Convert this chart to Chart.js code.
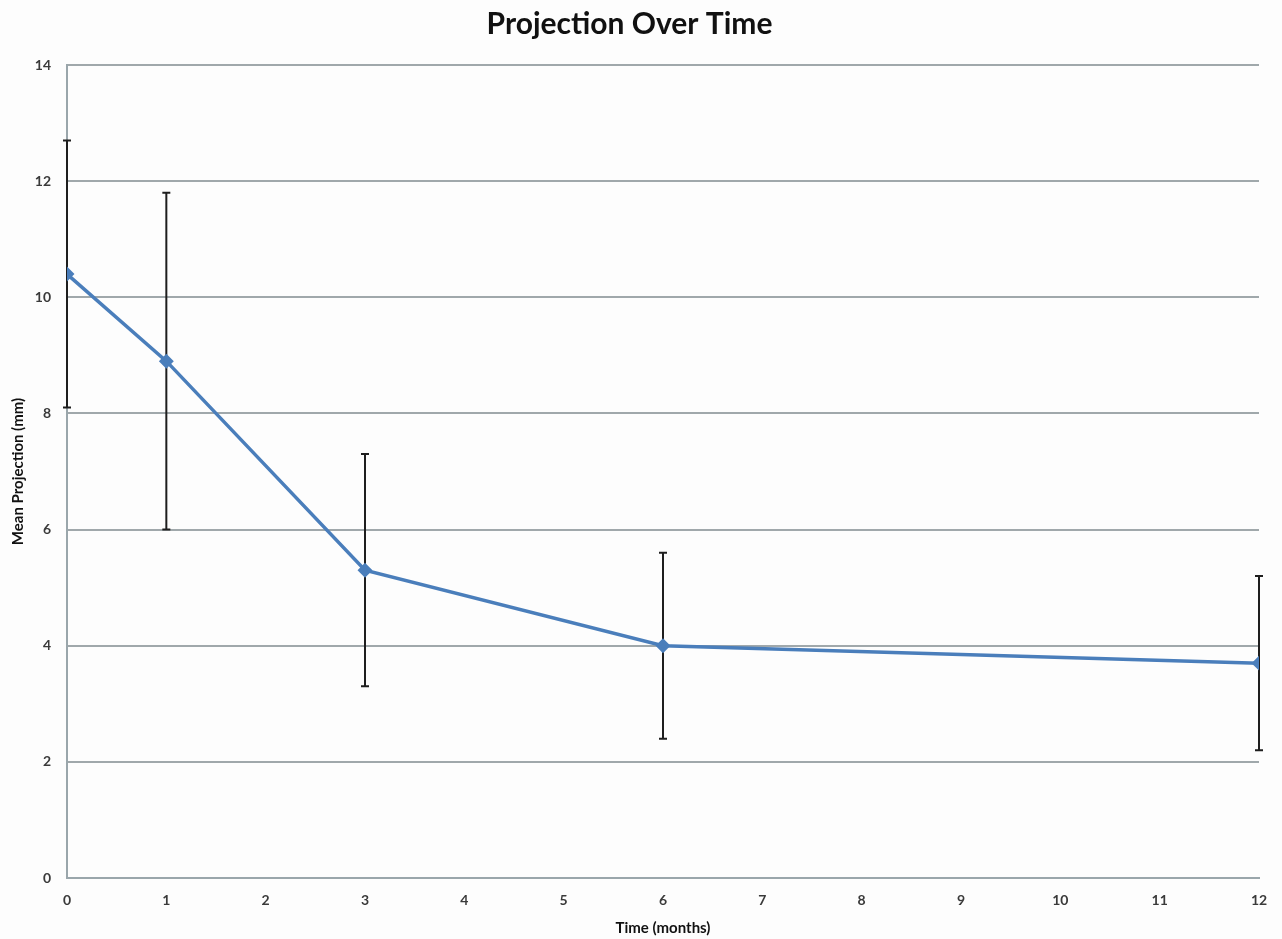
<!DOCTYPE html>
<html>
<head>
<meta charset="utf-8">
<script src="https://cdn.jsdelivr.net/npm/chart.js@4"></script>
<style>
  html, body { margin: 0; padding: 0; background: #fdfdfd; }
  #wrap { width: 1282px; height: 939px; }
</style>
</head>
<body>
<div id="wrap"><canvas id="chart" width="1282" height="939"></canvas></div>
<script>
// Datos
const months = [0, 1, 3, 6, 12];
const meanProjection = [10.4, 8.9, 5.3, 4.0, 3.7];
const errLow = [8.1, 6.0, 3.3, 2.4, 2.2];
const errHigh = [12.7, 11.8, 7.3, 5.6, 5.2];
const yTicks = [0, 2, 4, 6, 8, 10, 12, 14];

const fontFamily = 'Lato, "Open Sans", sans-serif';
const textColor = '#3a3a3a';

// Barras de error dibujadas con las escalas del grafico
const errorBars = {
    id: 'errorBars',
    beforeDatasetsDraw(chart) {
        const ctx = chart.ctx;
        const x = chart.scales.x;
        const y = chart.scales.y;
        ctx.save();
        ctx.strokeStyle = '#1e1e1e';
        ctx.lineWidth = 2;
        months.forEach((m, i) => {
            const px = x.getPixelForValue(m);
            const top = y.getPixelForValue(errHigh[i]);
            const bot = y.getPixelForValue(errLow[i]);
            ctx.beginPath();
            ctx.moveTo(px, top);
            ctx.lineTo(px, bot);
            ctx.moveTo(px - 4, top);
            ctx.lineTo(px + 4, top);
            ctx.moveTo(px - 4, bot);
            ctx.lineTo(px + 4, bot);
            ctx.stroke();
        });
        ctx.restore();
    }
};

const background = {
    id: 'background',
    beforeDraw(chart) {
        const ctx = chart.ctx;
        ctx.save();
        ctx.fillStyle = '#fdfdfd';
        ctx.fillRect(0, 0, chart.width, chart.height);
        ctx.restore();
    }
};

new Chart(document.getElementById('chart'), {
    type: 'line',
    data: {
        datasets: [{
            label: 'Mean Projection',
            data: months.map((m, i) => ({ x: m, y: meanProjection[i] })),
            borderColor: '#4a7ebb',
            backgroundColor: '#4a7ebb',
            borderWidth: 3.5,
            pointStyle: 'rectRot',
            pointRadius: 5,
            pointHoverRadius: 5,
            tension: 0
        }]
    },
    options: {
        responsive: false,
        animation: false,
        layout: { padding: { left: 0, right: 23, top: 0, bottom: 0 } },
        plugins: {
            legend: { display: false },
            tooltip: { enabled: false },
            title: {
                display: true,
                text: 'Projection Over Time',
                color: '#111',
                font: { family: fontFamily, size: 30, weight: 'bold' },
                padding: { top: 6, bottom: 23 }
            }
        },
        scales: {
            x: {
                type: 'linear',
                min: 0,
                max: 12,
                afterFit(scale) { scale.height = 61; },
                grid: { display: false, drawTicks: false },
                border: { display: true, color: '#9aa6ab', width: 2 },
                ticks: {
                    stepSize: 1,
                    padding: 14,
                    color: textColor,
                    font: { family: fontFamily, size: 14, weight: 'bold' }
                },
                title: {
                    display: true,
                    text: 'Time (months)',
                    color: '#111',
                    padding: { top: 0, bottom: 2 },
                    font: { family: fontFamily, size: 15, weight: 'bold' }
                }
            },
            y: {
                min: 0,
                max: 14,
                afterFit(scale) { scale.width = 67; },
                afterBuildTicks(scale) { scale.ticks = yTicks.map(v => ({ value: v })); },
                grid: { color: '#a0a8ab', lineWidth: 2, drawTicks: false },
                border: { display: true, color: '#9aa6ab', width: 2 },
                ticks: {
                    padding: 16,
                    color: textColor,
                    font: { family: fontFamily, size: 14, weight: 'bold' }
                },
                title: {
                    display: true,
                    text: 'Mean Projection (mm)',
                    color: '#111',
                    padding: { top: 9, bottom: 0 },
                    font: { family: fontFamily, size: 15, weight: 'bold' }
                }
            }
        }
    },
    plugins: [background, errorBars]
});
</script>
</body>
</html>
